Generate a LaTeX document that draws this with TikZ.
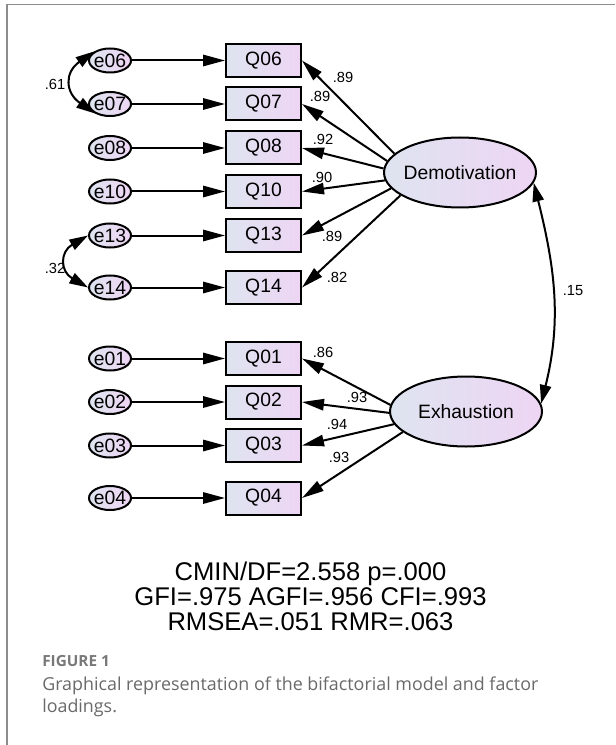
\documentclass[tikz,border=0pt]{standalone}
\usepackage{fontspec}
\setmainfont{Liberation Sans}
\newfontfamily\capfont{Open Sans}
\usetikzlibrary{shapes.geometric,arrows.meta}
\definecolor{fillL}{RGB}{222,228,240}
\definecolor{fillR}{RGB}{238,213,244}
\definecolor{capgray}{RGB}{105,105,105}
\definecolor{figgray}{RGB}{120,120,120}
\definecolor{framegray}{RGB}{140,140,140}
\begin{document}
\begin{tikzpicture}[x=0.75pt,y=-0.75pt,
  nodebase/.style={draw=black, line width=1.5pt, inner sep=0pt, left color=fillL, right color=fillR, font=\fontsize{14.5}{16}\selectfont},
  obs/.style={nodebase, rectangle, minimum width=56.25pt, minimum height=24.75pt},
  err/.style={nodebase, ellipse, minimum width=31.5pt, minimum height=18pt},
  lat/.style={nodebase, ellipse, minimum width=114pt, minimum height=52.5pt},
  arr/.style={line width=1.5pt, -{Triangle[length=16.5pt,width=8.5pt]}},
  dbl/.style={line width=1.5pt, {Triangle[length=14pt,width=8.5pt]}-{Triangle[length=14pt,width=8.5pt]}},
  lab/.style={font=\fontsize{11}{13}\selectfont, inner sep=0pt}
]
\useasboundingbox (0,0) rectangle (615,745);
\draw[framegray, line width=1pt] (7,745) -- (7,4.5) -- (615,4.5);

% error terms and indicators
\foreach \n/\y in {06/60.5,07/104,08/148,10/191.5,13/235.5,14/287.5,01/358.5,02/402,03/445.5,04/498}{
  \node[err] (e\n) at (110,\y) {\makebox[0pt]{e\n}};
  \node[obs] (q\n) at (263.5,\y) {Q\n};
  \draw[arr] (e\n) -- (q\n);
}

% latent factors
\node[lat] (dem) at (460,172.5) {\makebox[0pt]{Demotivation}};
\node[lat] (exh) at (466,411.5) {\makebox[0pt]{Exhaustion}};

% loadings
\draw[arr] (dem.164) -- (q06.east);
\draw[arr] (dem.171) -- (q07.east);
\draw[arr] (dem.177) -- (q08.east);
\draw[arr] (dem.186) -- (q10.east);
\draw[arr] (dem.193) -- (q13.east);
\draw[arr] (dem.201) -- (q14.east);
\draw[arr] (exh.175) -- (q01.east);
\draw[arr] (exh.181) -- (q02.east);
\draw[arr] (exh.190) -- (q03.east);
\draw[arr] (exh.198) -- (q04.east);

% covariances
\draw[dbl] (dem.-8) to[out=-76,in=76] (exh.6);
\draw[dbl] (e06.150) to[out=215,in=145,looseness=1.5] (e07.212);
\draw[dbl] (e13.west) to[out=210,in=150,looseness=1.6] (e14.west);

% labels
\node[lab] (l06) at (343,77) {.89};
\node[lab] (l07) at (320,96) {.89};
\node[lab] (l08) at (323,139) {.92};
\node[lab] (l10) at (322,177) {.90};
\node[lab] (l13) at (332,236) {.89};
\node[lab] (l14) at (337,277) {.82};
\node[lab] (l01) at (323,352) {.86};
\node[lab] (l02) at (357,397) {.93};
\node[lab] (l03) at (337,424) {.94};
\node[lab] (l04) at (339,457) {.93};
\node[lab] (lc) at (573,291) {.15};
\node[lab] (l67) at (55,84) {.61};
\node[lab] (l1314) at (55,268) {.32};

% fit statistics
\node[font=\fontsize{19.2}{18.75}\selectfont, align=center, inner sep=0pt] (fit) at (310.5,596) {CMIN/DF=2.558 p=.000\\GFI=.975 AGFI=.956 CFI=.993\\RMSEA=.051 RMR=.063};

% caption
\node[anchor=west, font=\capfont\bfseries\fontsize{11.5}{13}\selectfont, text=figgray, inner sep=0pt] (fig) at (42,661.5) {FIGURE 1};
\node[anchor=west, font=\capfont\fontsize{13.4}{16.5}\selectfont, text=capgray, inner sep=0pt, align=left] (cap) at (42,696.5) {Graphical representation of the bifactorial model and factor\\loadings.};
\end{tikzpicture}
\end{document}
